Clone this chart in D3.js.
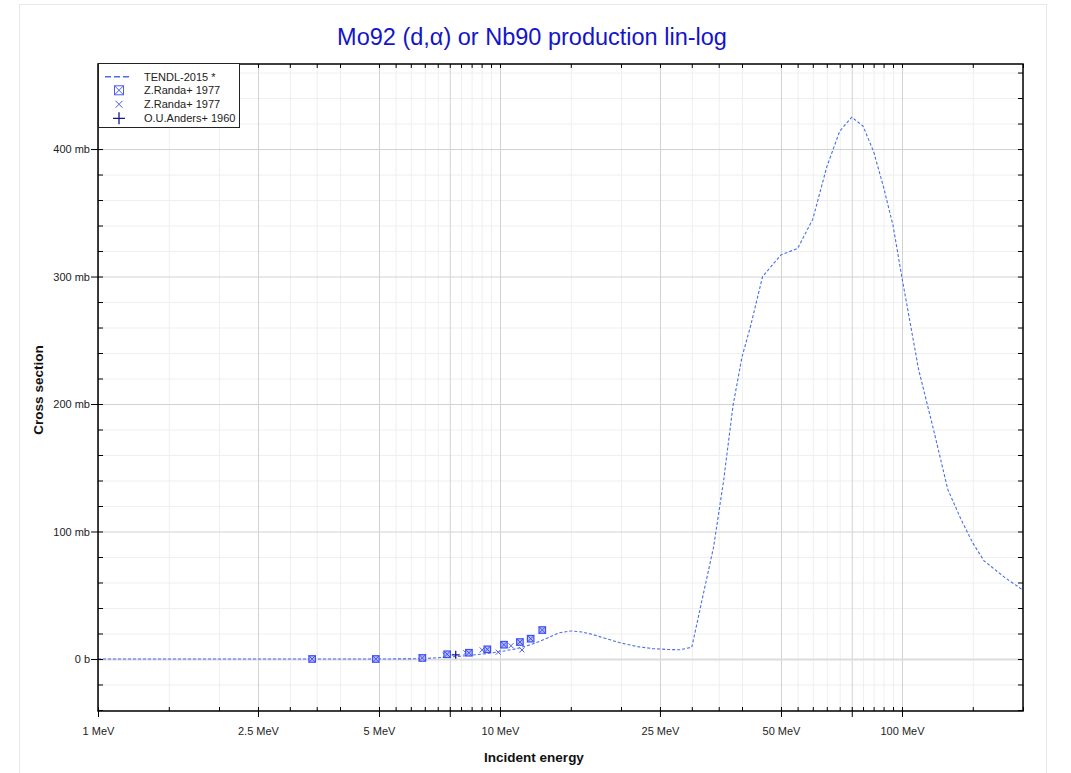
<!DOCTYPE html>
<html><head><meta charset="utf-8">
<script src="https://cdn.jsdelivr.net/npm/d3@7/dist/d3.min.js"></script>
<style>
body{margin:0;background:#fff;}
text{font-family:"Liberation Sans",Arial,Helvetica,sans-serif;}
</style>
</head><body>
<svg id="chart" width="1071" height="773"></svg>
<script>
// ---------------- data ----------------
const tendlE  = [1, 2, 3, 4, 5, 6, 6.5, 7, 7.5, 8, 8.5, 9, 9.5, 10, 11, 12, 13, 14, 15, 16, 17, 18, 19, 20, 22, 24, 26, 28, 30, 32, 34, 36, 38, 40, 42, 45, 50, 55, 60, 65, 70, 75, 80, 85, 90, 95, 100, 110, 120, 130, 140, 150, 160, 180, 200];
const tendlXS = [0, 0, 0, 0, 0, 0.1, 0.4, 1.0, 1.6, 2.2, 3.0, 3.8, 4.7, 5.7, 8.1, 11.5, 15.8, 20.5, 22.0, 21.2, 19.2, 16.8, 14.6, 12.5, 9.7, 8.1, 7.5, 7.2, 9.2, 50, 88, 140, 199, 237, 261, 300, 317, 322, 345, 386, 414, 425, 418, 398, 370, 340, 299, 227, 179, 133, 110, 91, 77, 64, 54];

const randaBoxE  = [3.41, 4.91, 6.41, 7.39, 8.37, 9.30, 10.23, 11.21, 11.92, 12.74];
const randaBoxXS = [0, 0, 0.8, 3.7, 4.9, 7.6, 11.2, 13.3, 15.9, 22.7];

const randaXE  = [7.31, 8.22, 9.03, 9.90, 10.65, 11.34];
const randaXXS = [3.1, 4.9, 7.1, 5.3, 10.4, 7.1];

const andersE  = [7.76];
const andersXS = [3.3];

const legendLabels = ["TENDL-2015 *", "Z.Randa+ 1977", "Z.Randa+ 1977", "O.U.Anders+ 1960"];

const xLabelTicks = [1, 2.5, 5, 10, 25, 50, 100];
const xLabelText  = ["1 MeV", "2.5 MeV", "5 MeV", "10 MeV", "25 MeV", "50 MeV", "100 MeV"];
const xLongTicks  = [1, 2.5, 5, 7.5, 10, 25, 50, 75, 100];
const xAllTicks   = [1, 1.5, 2, 2.5, 3, 3.5, 4, 5, 5.5, 6, 6.5, 7, 7.5, 8, 8.5, 9, 9.5, 10, 15, 20, 25, 30, 35, 40, 50, 55, 60, 65, 70, 75, 80, 85, 90, 95, 100, 150, 200];

const yMajorTicks = [0, 100, 200, 300, 400];
const yMajorText  = ["0 b", "100 mb", "200 mb", "300 mb", "400 mb"];
const yMinorTicks = [-40, -20, 0, 20, 40, 60, 80, 100, 120, 140, 160, 180, 200, 220, 240, 260, 280, 300, 320, 340, 360, 380, 400, 420, 440, 460];

// ---------------- layout ----------------
const L = 98, R = 1023, T = 64, B = 711;
const svg = d3.select("#chart");

const x = d3.scaleLog().domain([1, 200]).range([L, R]);
const y = d3.scaleLinear().domain([-40.8, 466.7]).range([B, T]);

// outer light frame
svg.append("rect").attr("x", 19.5).attr("y", 4.5).attr("width", 1027).attr("height", 790)
  .attr("fill", "none").attr("stroke", "#e8e8e8");

// ---------------- grid ----------------
const majorX = new Set(xLongTicks);
const grid = svg.append("g");
grid.append("g").attr("transform", `translate(0,${B})`)
  .call(d3.axisBottom(x).tickValues(xAllTicks.filter(d => !majorX.has(d))).tickSize(-(B - T)).tickFormat(""))
  .call(g => g.select(".domain").remove())
  .call(g => g.selectAll("line").attr("stroke", "#efefef"));
grid.append("g").attr("transform", `translate(${L},0)`)
  .call(d3.axisLeft(y).tickValues(yMinorTicks.filter(d => d % 100 !== 0)).tickSize(-(R - L)).tickFormat(""))
  .call(g => g.select(".domain").remove())
  .call(g => g.selectAll("line").attr("stroke", "#efefef"));
grid.append("g").attr("transform", `translate(0,${B})`)
  .call(d3.axisBottom(x).tickValues(xLongTicks).tickSize(-(B - T)).tickFormat(""))
  .call(g => g.select(".domain").remove())
  .call(g => g.selectAll("line").attr("stroke", "#d2d2d2"));
grid.append("g").attr("transform", `translate(${L},0)`)
  .call(d3.axisLeft(y).tickValues(yMajorTicks).tickSize(-(R - L)).tickFormat(""))
  .call(g => g.select(".domain").remove())
  .call(g => g.selectAll("line").attr("stroke", d => d === 0 ? "#dcdcdc" : "#d2d2d2")
                                   .attr("stroke-width", d => d === 0 ? 2 : 1));

// ---------------- TENDL curve ----------------
const tendl = tendlE.map((e, i) => [e, tendlXS[i]]);
svg.append("path").datum(tendl)
  .attr("fill", "none").attr("stroke", "#4a6ee8").attr("stroke-width", 1.1)
  .attr("stroke-dasharray", "3,2")
  .attr("d", d3.line().x(d => x(d[0])).y(d => y(d[1])));

// ---------------- symbols ----------------
function boxX(g, s, col) {
  g.append("rect").attr("x", -s / 2).attr("y", -s / 2).attr("width", s).attr("height", s)
    .attr("fill", "#b9c0ff").attr("stroke", col).attr("stroke-width", 1.2);
  g.append("path").attr("d", `M${-s/2},${-s/2}L${s/2},${s/2}M${-s/2},${s/2}L${s/2},${-s/2}`)
    .attr("stroke", col).attr("stroke-width", 1);
}
function crossX(g, s, col) {
  g.append("path").attr("d", `M${-s/2},${-s/2}L${s/2},${s/2}M${-s/2},${s/2}L${s/2},${-s/2}`)
    .attr("stroke", col).attr("stroke-width", 1).attr("fill", "none");
}
function plus(g, s, col) {
  g.append("path").attr("d", `M${-s/2},0L${s/2},0M0,${-s/2}L0,${s/2}`)
    .attr("stroke", col).attr("stroke-width", 1.3).attr("fill", "none");
}

const randaX = randaXE.map((e, i) => [e, randaXXS[i]]);
svg.append("g").selectAll("g").data(randaX).join("g")
  .attr("transform", d => `translate(${x(d[0])},${y(d[1])})`)
  .each(function () { crossX(d3.select(this), 5, "#4b5cf0"); });

const randaBox = randaBoxE.map((e, i) => [e, randaBoxXS[i]]);
svg.append("g").selectAll("g").data(randaBox).join("g")
  .attr("transform", d => `translate(${x(d[0])},${y(d[1])})`)
  .each(function () { boxX(d3.select(this), 6.5, "#3f4ff2"); });

const anders = andersE.map((e, i) => [e, andersXS[i]]);
svg.append("g").selectAll("g").data(anders).join("g")
  .attr("transform", d => `translate(${x(d[0])},${y(d[1])})`)
  .each(function () { plus(d3.select(this), 8, "#16168a"); });

// ---------------- axes / ticks ----------------
const ax = svg.append("g").attr("stroke", "#000");
function clean(g) { g.select(".domain").remove(); g.selectAll("line").attr("stroke", "#000"); }
// bottom
ax.append("g").attr("transform", `translate(0,${B})`)
  .call(d3.axisBottom(x).tickValues(xAllTicks).tickSize(-4).tickFormat("")).call(clean);
ax.append("g").attr("transform", `translate(0,${B})`)
  .call(d3.axisBottom(x).tickValues(xLongTicks).tickSize(6).tickFormat("")).call(clean);
// top
ax.append("g").attr("transform", `translate(0,${T})`)
  .call(d3.axisTop(x).tickValues(xAllTicks).tickSize(-4).tickFormat("")).call(clean);
// left
ax.append("g").attr("transform", `translate(${L},0)`)
  .call(d3.axisLeft(y).tickValues(yMinorTicks).tickSize(-5).tickFormat("")).call(clean);
ax.append("g").attr("transform", `translate(${L},0)`)
  .call(d3.axisLeft(y).tickValues(yMajorTicks).tickSize(7).tickFormat("")).call(clean);
// right
ax.append("g").attr("transform", `translate(${R},0)`)
  .call(d3.axisRight(y).tickValues(yMinorTicks).tickSize(-5).tickFormat("")).call(clean);

// frame
svg.append("rect").attr("x", L).attr("y", T).attr("width", R - L).attr("height", B - T)
  .attr("fill", "none").attr("stroke", "#000").attr("stroke-width", 1.5);

// tick labels
svg.append("g").attr("transform", `translate(0,${B})`)
  .call(d3.axisBottom(x).tickValues(xLabelTicks).tickSize(0).tickPadding(16)
        .tickFormat((d, i) => xLabelText[i]))
  .call(g => g.select(".domain").remove())
  .call(g => g.selectAll("text").attr("font-size", 11).attr("fill", "#222")
        .attr("font-family", "'Liberation Sans', Arial, sans-serif"));
svg.append("g").attr("transform", `translate(${L},0)`)
  .call(d3.axisLeft(y).tickValues(yMajorTicks).tickSize(0).tickPadding(8)
        .tickFormat((d, i) => yMajorText[i]))
  .call(g => g.select(".domain").remove())
  .call(g => g.selectAll("text").attr("font-size", 11).attr("fill", "#222")
        .attr("font-family", "'Liberation Sans', Arial, sans-serif"));

// titles
svg.append("text").attr("x", 532).attr("y", 45).attr("text-anchor", "middle")
  .attr("font-size", 23.5).attr("fill", "#1414c8")
  .text("Mo92 (d,\u03b1) or Nb90 production lin-log");
svg.append("text").attr("x", 534).attr("y", 762).attr("text-anchor", "middle")
  .attr("font-size", 13.5).attr("font-weight", "bold").attr("fill", "#111")
  .text("Incident energy");
svg.append("text").attr("transform", "translate(43,390) rotate(-90)").attr("text-anchor", "middle")
  .attr("font-size", 13.5).attr("font-weight", "bold").attr("fill", "#111")
  .text("Cross section");

// ---------------- legend ----------------
const lg = svg.append("g");
lg.append("rect").attr("x", 98.5).attr("y", 63.5).attr("width", 141).attr("height", 64)
  .attr("fill", "#fff").attr("stroke", "#222").attr("stroke-width", 1);
const rowY = [76.7, 90.3, 104.3, 118.3];
lg.append("line").attr("x1", 105).attr("x2", 131).attr("y1", rowY[0]).attr("y2", rowY[0])
  .attr("stroke", "#4a6ee8").attr("stroke-width", 1.5).attr("stroke-dasharray", "6,3");
const s1 = lg.append("g").attr("transform", `translate(119,${rowY[1]})`);
s1.append("rect").attr("x", -4.5).attr("y", -4.5).attr("width", 9).attr("height", 9)
  .attr("fill", "none").attr("stroke", "#4b5cf0").attr("stroke-width", 1);
s1.append("path").attr("d", "M-4.5,-4.5L4.5,4.5M-4.5,4.5L4.5,-4.5").attr("stroke", "#4b5cf0");
crossX(lg.append("g").attr("transform", `translate(119,${rowY[2]})`), 7, "#4b5cf0");
plus(lg.append("g").attr("transform", `translate(119,${rowY[3]})`), 12, "#16168a");
lg.selectAll("text.l").data(legendLabels).join("text").attr("class", "l")
  .attr("x", 144).attr("y", (d, i) => rowY[i] + 4).attr("font-size", 11).attr("fill", "#222")
  .text(d => d);
</script>
</body></html>
